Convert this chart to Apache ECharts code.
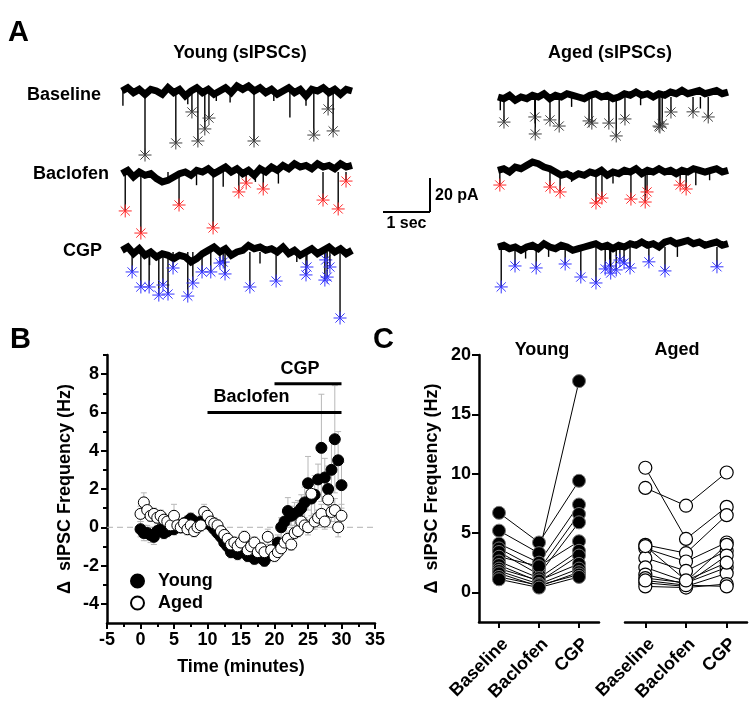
<!DOCTYPE html>
<html><head><meta charset="utf-8">
<script src="https://cdn.jsdelivr.net/npm/echarts@6/dist/echarts.min.js"></script>
<style>html,body{margin:0;padding:0;background:#fff}#c{width:754px;height:715px}</style>
</head><body><div id="c"></div>
<script>
// ---------------- DATA ----------------
// Panel A: trace baselines (pA), sampled every 0.125 s over 5 s
const traceStep = 0.125;
const youngBaselineTrace = [0,2,-1,1,-2,1,0,-2,2,-1,1,-3,0,2,-1,1,-2,0,2,-1,3,1,3,0,2,-1,1,-2,0,2,-1,1,-3,1,0,2,-1,1,-2,1,0];
const youngBaclofenTrace = [-1,1,-3,0,-2,-1,-4,-6,-5,-3,-1,0,-2,1,0,2,-1,1,3,0,2,-1,1,-2,2,0,3,1,4,2,5,3,4,2,5,3,4,2,5,3,4];
const youngCGPTrace = [1,3,-1,2,-2,0,-3,-1,-2,-4,-2,-3,-6,-4,-1,1,3,0,2,-2,0,1,4,2,3,1,2,0,3,-1,1,-2,0,2,-1,1,3,0,2,-1,1];
const agedBaselineTrace = [0,-1,1,-2,0,-1,1,0,2,-1,1,0,2,1,0,-1,1,2,0,1,-1,0,2,1,3,1,2,0,2,1,3,2,4,2,3,4,2,3,4,2,3];
const agedBaclofenTrace = [1,2,0,3,2,4,6,5,3,2,0,-2,-1,-3,-1,-2,0,-1,1,-2,0,-1,1,0,2,-1,1,0,2,0,1,-1,1,0,2,1,0,1,2,0,1];
const agedCGPTrace = [0,1,-1,0,-2,0,1,-1,2,0,-1,1,0,-2,-1,0,1,2,0,1,-1,1,0,2,1,3,1,2,0,3,4,2,3,4,2,3,1,2,3,1,2];

// detected events [time s, amplitude pA] (marked with asterisks)
const youngBaselineEvents = [[0.50,-38.8],[1.17,-31.5],[1.52,-12.7],[1.65,-30.3],[1.80,-23.0],[1.89,-16.4],[2.87,-30.3],[4.17,-26.7],[4.48,-10.9],[4.59,-24.2]];
const youngBaclofenEvents = [[0.07,-23.6],[0.41,-37.0],[1.24,-20.0],[1.98,-33.9],[2.54,-12.1],[2.70,-6.7],[3.07,-10.3],[4.37,-17.0],[4.70,-22.4],[4.87,-5.5]];
const youngCGPEvents = [[0.22,-12.1],[0.41,-21.2],[0.59,-21.2],[0.80,-26.1],[0.89,-20.0],[1.00,-25.5],[1.11,-9.7],[1.43,-26.7],[1.54,-18.8],[1.74,-12.1],[1.93,-12.1],[2.13,-6.7],[2.20,-6.1],[2.24,-13.3],[2.78,-21.2],[3.35,-17.6],[4.00,-13.9],[4.02,-9.1],[4.41,-17.0],[4.46,-15.2],[4.43,-4.8],[4.52,-9.1],[4.74,-40.0]];
const agedBaselineEvents = [[0.13,-15.2],[0.80,-12.1],[0.81,-22.4],[1.13,-13.9],[1.33,-17.6],[1.98,-14.5],[2.04,-15.8],[2.41,-15.8],[2.57,-23.6],[2.76,-13.3],[3.50,-17.6],[3.57,-16.4],[3.52,-18.2],[3.76,-9.1],[4.24,-9.0],[4.57,-12.1]];
const agedBaclofenEvents = [[0.04,-7.9],[1.13,-9.1],[1.35,-12.1],[2.13,-18.8],[2.26,-15.8],[2.89,-16.4],[3.20,-18.2],[3.24,-12.1],[3.96,-7.9],[4.09,-10.3]];
const agedCGPEvents = [[0.07,-24.2],[0.37,-11.5],[0.83,-12.7],[1.46,-10.3],[1.80,-18.2],[2.13,-21.8],[2.33,-13.3],[2.43,-11.5],[2.45,-15.8],[2.57,-13.9],[2.65,-7.9],[2.74,-9.7],[2.87,-12.7],[3.28,-9.0],[3.63,-14.5],[4.76,-12.0]];
// small unmarked deflections [time s, amplitude pA]
const youngBaselineSmall = [[0.02,-9],[1.43,-8],[2.05,-6],[2.35,-7],[3.30,-6],[3.65,-16],[4.00,-9]];
const youngBaclofenSmall = [[1.00,-6],[1.62,-8],[2.20,-9],[2.90,-6],[3.40,-7]];
const youngCGPSmall = [[0.60,-8],[3.00,-7],[3.80,-6]];
const agedBaselineSmall = [[0.05,-8],[1.60,-6],[3.10,-5],[4.40,-7]];
const agedBaclofenSmall = [[1.60,-6],[2.50,-7],[4.30,-8],[4.60,-5]];
const agedCGPSmall = [[0.60,-7],[1.10,-6],[3.90,-6]];
// scale bar
const scaleBarSec = 1, scaleBarPA = 20;

// Panel B: time course (minutes) mean ± SEM
const bTime = [0,0.5,1,1.5,2,2.5,3,3.5,4,4.5,5,5.5,6,6.5,7,7.5,8,8.5,9,9.5,10,10.5,11,11.5,12,12.5,13,13.5,14,14.5,15,15.5,16,16.5,17,17.5,18,18.5,19,19.5,20,20.5,21,21.5,22,22.5,23,23.5,24,24.5,25,25.5,26,26.5,27,27.5,28,28.5,29,29.5,30];
const bYoungMean = [-0.1,-0.3,-0.3,-0.4,-0.5,-0.2,-0.1,-0.3,-0.2,0.0,-0.1,0.1,0.0,0.2,0.3,0.45,0.3,0.2,0.3,0.2,0.3,0.1,-0.1,-0.3,-0.5,-0.8,-1.0,-1.3,-1.2,-1.4,-1.2,-1.3,-1.5,-1.4,-1.65,-1.5,-1.6,-1.75,-1.5,-1.4,-1.3,-0.8,0.0,0.3,0.85,0.6,0.7,0.8,1.0,1.3,2.3,1.5,1.7,2.5,4.15,2.6,2.0,3.0,4.6,3.5,2.2];
const bYoungErr = [0.4,0.4,0.4,0.4,0.4,0.3,0.3,0.3,0.3,0.3,0.3,0.3,0.3,0.3,0.3,0.3,0.3,0.3,0.3,0.3,0.3,0.3,0.3,0.3,0.3,0.3,0.3,0.3,0.3,0.3,0.3,0.3,0.3,0.3,0.3,0.3,0.3,0.3,0.3,0.3,0.3,0.4,0.5,0.5,0.7,0.5,0.6,0.6,0.7,0.8,1.4,0.9,1.0,0.8,2.8,1.0,1.2,1.5,2.8,1.5,1.2];
const bAgedMean = [0.7,1.3,0.9,0.6,0.7,0.5,0.6,0.4,0.3,0.1,0.6,0.1,0.0,0.2,-0.1,0.1,-0.2,0.0,0.1,0.8,0.6,0.3,0.2,0.1,-0.2,-0.4,-0.6,-0.9,-0.8,-1.0,-0.8,-0.5,-1.2,-1.0,-0.8,-1.3,-1.1,-1.3,-0.5,-1.2,-1.5,-1.3,-1.1,-0.8,-0.6,-0.9,-0.3,-0.2,0.3,0.1,0.0,1.75,0.3,0.5,0.7,0.3,1.45,0.8,0.9,0.0,0.6];
const bAgedErr = [0.4,0.5,0.4,0.3,0.3,0.3,0.3,0.3,0.3,0.3,0.6,0.3,0.3,0.3,0.3,0.3,0.3,0.3,0.3,0.4,0.3,0.3,0.3,0.3,0.3,0.3,0.3,0.3,0.3,0.3,0.3,0.3,0.3,0.3,0.3,0.3,0.3,0.3,0.4,0.3,0.3,0.3,0.3,0.3,0.3,0.3,0.3,0.3,0.3,0.3,0.4,0.5,0.4,0.4,0.5,0.4,0.6,0.5,0.6,0.5,0.6];
const bDrugBars = [[10,30,6.0],[20,30,7.5]];
const bDrugNames = ['Baclofen','CGP'];

// Panel C: per-cell frequencies (Hz) for Baseline, Baclofen, CGP
const cConditions = ['Baseline','Baclofen','CGP'];
const cYoungCells = [[6.7,4.2,9.4],[5.2,3.3,17.8],[4.1,2.5,7.4],[3.7,1.9,6.6],[3.4,1.5,5.9],[3.0,2.2,4.3],[2.6,1.2,3.5],[2.3,0.9,3.1],[2.0,1.0,2.4],[1.8,0.7,2.0],[1.6,0.5,1.7],[1.3,0.6,1.5],[1.1,0.4,1.3]];
const cAgedCells = [[10.5,4.5,7.2],[8.8,7.3,10.1],[4.0,3.3,6.5],[3.7,2.6,4.2],[2.9,1.8,3.5],[2.1,0.9,4.0],[1.5,0.7,3.1],[1.2,0.8,2.1],[0.8,0.5,1.6],[0.5,0.4,0.7],[1.0,0.6,0.5],[3.9,1.0,2.5]];

// ---------------- RENDER ----------------
const FF = '"Liberation Sans", Arial, sans-serif';
const bold = s => 'bold ' + s + 'px ' + FF;
const chart = echarts.init(document.getElementById('c'), null, {renderer: 'canvas', width: 754, height: 715});

const traceDefs = [
  {tr: youngBaselineTrace, ev: youngBaselineEvents, sm: youngBaselineSmall, col: '#404040', left: 122, center: 91},
  {tr: youngBaclofenTrace, ev: youngBaclofenEvents, sm: youngBaclofenSmall, col: '#ff2a2a', left: 122, center: 172},
  {tr: youngCGPTrace, ev: youngCGPEvents, sm: youngCGPSmall, col: '#3535ff', left: 122, center: 252},
  {tr: agedBaselineTrace, ev: agedBaselineEvents, sm: agedBaselineSmall, col: '#404040', left: 498, center: 97},
  {tr: agedBaclofenTrace, ev: agedBaclofenEvents, sm: agedBaclofenSmall, col: '#ff2a2a', left: 498, center: 172},
  {tr: agedCGPTrace, ev: agedCGPEvents, sm: agedCGPSmall, col: '#3535ff', left: 498, center: 247}
];
const PX_PER_PA = 1.65;
const grids = [], xAxes = [], yAxes = [], series = [];

function asterisk(cx, cy, r, color) {
  const d = r * 0.7071;
  const segs = [[-r,0,r,0],[0,-r,0,r],[-d,-d,d,d],[-d,d,d,-d]];
  return segs.map(s => ({type: 'line', shape: {x1: cx+s[0], y1: cy+s[1], x2: cx+s[2], y2: cy+s[3]}, style: {stroke: color, lineWidth: 1}}));
}

traceDefs.forEach((d, i) => {
  grids.push({left: d.left, top: d.center - 10 * PX_PER_PA, width: 230, height: 60 * PX_PER_PA});
  xAxes.push({gridIndex: i, type: 'value', min: 0, max: 5, show: false});
  yAxes.push({gridIndex: i, type: 'value', min: -50, max: 10, show: false});
  series.push({type: 'line', xAxisIndex: i, yAxisIndex: i, data: d.tr.map((v, k) => [k * traceStep, v]),
    showSymbol: false, silent: true, lineStyle: {color: '#000', width: 7, join: 'miter'}, z: 2, animation: false});
  const evRender = (marked, color) => function (params, api) {
    const t = api.value(0), a = api.value(1);
    const p0 = api.coord([t, 0]), p1 = api.coord([t, a]);
    const ch = [{type: 'line', shape: {x1: p0[0], y1: p0[1], x2: p1[0], y2: p1[1]}, style: {stroke: '#000', lineWidth: 1.4}}];
    if (marked) Array.prototype.push.apply(ch, asterisk(p1[0], p1[1], 6.5, color));
    return {type: 'group', children: ch};
  };
  series.push({type: 'custom', xAxisIndex: i, yAxisIndex: i, data: d.sm, renderItem: evRender(false), z: 1, silent: true});
  series.push({type: 'custom', xAxisIndex: i, yAxisIndex: i, data: d.ev, renderItem: evRender(true, d.col), z: 3, silent: true});
});

// scale bar grid (index 6)
grids.push({left: 383, top: 178, width: 47, height: 34});
xAxes.push({gridIndex: 6, type: 'value', min: 0, max: scaleBarSec, show: false});
yAxes.push({gridIndex: 6, type: 'value', min: 0, max: scaleBarPA, show: false});
series.push({type: 'custom', xAxisIndex: 6, yAxisIndex: 6, data: [[0]], silent: true,
  renderItem: function (params, api) {
    const o = api.coord([0, 0]), r = api.coord([scaleBarSec, 0]), t = api.coord([scaleBarSec, scaleBarPA]);
    return {type: 'group', children: [
      {type: 'line', shape: {x1: o[0], y1: o[1], x2: r[0], y2: r[1]}, style: {stroke: '#000', lineWidth: 2}},
      {type: 'line', shape: {x1: r[0], y1: r[1], x2: t[0], y2: t[1]}, style: {stroke: '#000', lineWidth: 2}},
      {type: 'text', style: {text: scaleBarPA + ' pA', x: r[0] + 5, y: (r[1] + t[1]) / 2 + 1, font: bold(16), fill: '#000', textAlign: 'left', textVerticalAlign: 'middle'}},
      {type: 'text', style: {text: scaleBarSec + ' sec', x: (o[0] + r[0]) / 2, y: o[1] + 4, font: bold(16), fill: '#000', textAlign: 'center', textVerticalAlign: 'top'}}
    ]};
  }});

// Panel B (grid 7)
const axisLine = {show: true, onZero: false, lineStyle: {color: '#000', width: 2.5}};
const tickStyle = {color: '#000', width: 2};
const labelStyle = {color: '#000', fontFamily: FF, fontWeight: 'bold', fontSize: 18};
grids.push({left: 107, top: 355, width: 268, height: 268});
xAxes.push({gridIndex: 7, type: 'value', min: -5, max: 35, interval: 5, axisLine: axisLine,
  axisTick: {show: true, length: 6, lineStyle: tickStyle}, minorTick: {show: true, splitNumber: 2, length: 4, lineStyle: tickStyle},
  axisLabel: Object.assign({margin: 8}, labelStyle), splitLine: {show: false},
  name: 'Time (minutes)', nameLocation: 'middle', nameGap: 35, nameTextStyle: labelStyle});
yAxes.push({gridIndex: 7, type: 'value', min: -5, max: 9, interval: 1, axisLine: axisLine,
  axisTick: {show: true, length: 6, lineStyle: tickStyle, customValues: [-4,-2,0,2,4,6,8]},
  axisLabel: Object.assign({margin: 8, customValues: [-4,-2,0,2,4,6,8]}, labelStyle), splitLine: {show: false},
  name: 'Δ  sIPSC Frequency (Hz)', nameLocation: 'middle', nameGap: 33, nameRotate: 90, nameTextStyle: labelStyle});

// Panel C grids (8, 9)
grids.push({left: 479, top: 355, width: 120, height: 267});
grids.push({left: 625, top: 355, width: 122, height: 267});
[8, 9].forEach(g => {
  xAxes.push({gridIndex: g, type: 'category', data: cConditions, boundaryGap: true, axisLine: axisLine,
    axisTick: {show: true, alignWithLabel: true, length: 6, lineStyle: tickStyle},
    axisLabel: Object.assign({margin: 13, rotate: 45, interval: 0, verticalAlign: 'top'}, labelStyle)});
});
yAxes.push({gridIndex: 8, type: 'value', min: -2.5, max: 20, interval: 2.5, axisLine: axisLine,
  axisTick: {show: true, length: 7, lineStyle: tickStyle, customValues: [0,5,10,15,20]},
  axisLabel: Object.assign({margin: 8, customValues: [0,5,10,15,20]}, labelStyle), splitLine: {show: false},
  name: 'Δ  sIPSC Frequency (Hz)', nameLocation: 'middle', nameGap: 38, nameRotate: 90, nameTextStyle: labelStyle});
yAxes.push({gridIndex: 9, type: 'value', min: -2.5, max: 20, show: false});
// minor ticks for B y axis (index 10)
yAxes.push({gridIndex: 7, type: 'value', min: -5, max: 9, interval: 1, position: 'left',
  axisLine: {show: false, onZero: false}, axisLabel: {show: false}, splitLine: {show: false},
  axisTick: {show: true, length: 4, lineStyle: tickStyle, customValues: [-3,-1,1,3,5,7,9]}});

// B series
series.push({type: 'line', xAxisIndex: 7, yAxisIndex: 7, data: [[-5, 0], [35, 0]], showSymbol: false, silent: true,
  lineStyle: {color: '#b0b0b0', width: 1, type: [6, 4]}, z: 1});
const errRender = function (params, api) {
  const x = api.value(0), m = api.value(1), e = api.value(2);
  const p1 = api.coord([x, m + e]), p2 = api.coord([x, m - e]);
  const w = 3, st = {stroke: '#b8b8b8', lineWidth: 1};
  return {type: 'group', children: [
    {type: 'line', shape: {x1: p1[0], y1: p1[1], x2: p2[0], y2: p2[1]}, style: st},
    {type: 'line', shape: {x1: p1[0]-w, y1: p1[1], x2: p1[0]+w, y2: p1[1]}, style: st},
    {type: 'line', shape: {x1: p2[0]-w, y1: p2[1], x2: p2[0]+w, y2: p2[1]}, style: st}
  ]};
};
series.push({type: 'custom', xAxisIndex: 7, yAxisIndex: 7, data: bTime.map((t, i) => [t, bYoungMean[i], bYoungErr[i]]), renderItem: errRender, z: 2, silent: true});
series.push({type: 'custom', xAxisIndex: 7, yAxisIndex: 7, data: bTime.map((t, i) => [t, bAgedMean[i], bAgedErr[i]]), renderItem: errRender, z: 2, silent: true});
series.push({name: 'Young', type: 'scatter', xAxisIndex: 7, yAxisIndex: 7, data: bTime.map((t, i) => [t, bYoungMean[i]]),
  symbol: 'circle', symbolSize: 11, itemStyle: {color: '#000', borderColor: '#000', borderWidth: 1, opacity: 1}, z: 3});
series.push({name: 'Aged', type: 'scatter', xAxisIndex: 7, yAxisIndex: 7, data: bTime.map((t, i) => [t, bAgedMean[i]]),
  symbol: 'circle', symbolSize: 11, itemStyle: {color: '#fff', borderColor: '#000', borderWidth: 1, opacity: 1}, z: 4});
series.push({type: 'custom', xAxisIndex: 7, yAxisIndex: 7, data: bDrugBars, z: 5, silent: true,
  renderItem: function (params, api) {
    const a = api.coord([api.value(0), api.value(2)]), b = api.coord([api.value(1), api.value(2)]);
    return {type: 'group', children: [
      {type: 'line', shape: {x1: a[0], y1: a[1], x2: b[0], y2: b[1]}, style: {stroke: '#000', lineWidth: 3}},
      {type: 'text', style: {text: bDrugNames[params.dataIndex], x: a[0] + 6, y: a[1] - 6, font: bold(18), fill: '#000', textAlign: 'left', textVerticalAlign: 'bottom'}}
    ]};
  }});

// C series
function cellSeries(cells, g, filled) {
  cells.forEach(c => series.push({type: 'line', xAxisIndex: g, yAxisIndex: g, data: c, showSymbol: false, silent: true,
    lineStyle: {color: '#000', width: 1}, z: 1}));
  const pts = [];
  cells.forEach(c => c.forEach((v, k) => pts.push([k, v])));
  series.push({type: 'scatter', xAxisIndex: g, yAxisIndex: g, data: pts, symbol: 'circle', symbolSize: 13, silent: true, z: 3,
    itemStyle: filled ? {color: '#000', borderColor: '#777', borderWidth: 1, opacity: 1} : {color: '#fff', borderColor: '#000', borderWidth: 1.2, opacity: 1}});
}
cellSeries(cYoungCells, 8, true);
cellSeries(cAgedCells, 9, false);

const txt = (text, x, y, size, align, valign) => ({type: 'text', x: x, y: y, silent: true,
  style: {text: text, font: bold(size), fill: '#000', textAlign: align || 'left', textVerticalAlign: valign || 'middle'}});

chart.setOption({
  animation: false,
  backgroundColor: '#fff',
  grid: grids,
  xAxis: xAxes,
  yAxis: yAxes,
  series: series,
  legend: {data: ['Young', 'Aged'], orient: 'vertical', left: 125, top: 567, itemWidth: 13, itemHeight: 13, itemGap: 4,
    icon: 'circle', selectedMode: false, textStyle: {color: '#000', fontFamily: FF, fontWeight: 'bold', fontSize: 18, padding: [0, 0, 0, 9]}},
  graphic: [
    txt('A', 8, 33, 29),
    txt('B', 10, 340, 29),
    txt('C', 373, 340, 29),
    txt('Young (sIPSCs)', 240, 53, 18, 'center'),
    txt('Aged (sIPSCs)', 610, 53, 18, 'center'),
    txt('Baseline', 27, 95, 18),
    txt('Baclofen', 33, 174, 18),
    txt('CGP', 63, 251, 18),
    txt('Young', 542, 350, 18, 'center'),
    txt('Aged', 677, 350, 18, 'center')
  ]
});
</script></body></html>
